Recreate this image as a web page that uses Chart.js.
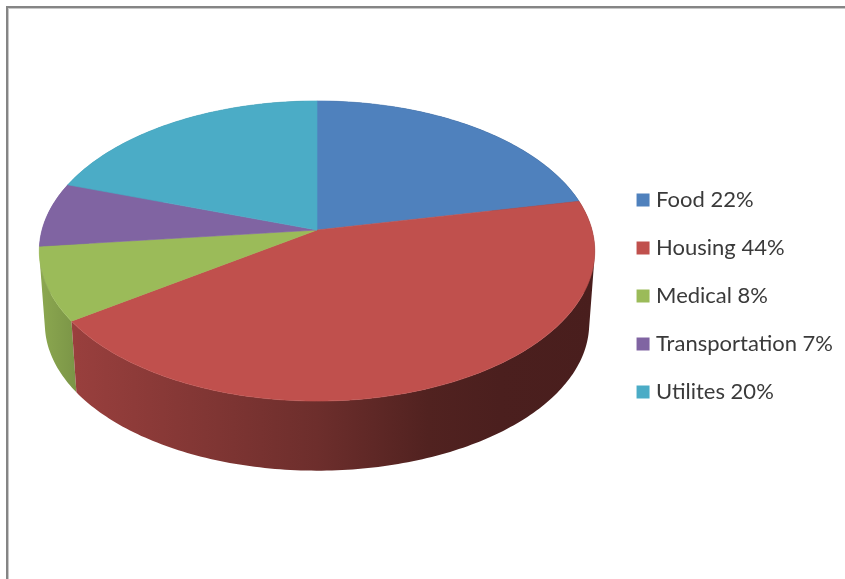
<!DOCTYPE html>
<html>
<head>
<meta charset="utf-8">
<title>Budget</title>
<script src="https://cdn.jsdelivr.net/npm/chart.js@4"></script>
<style>
    html, body { margin: 0; padding: 0; background: #fff; overflow: hidden; }
    #marco {
        position: absolute; left: 6px; top: 6px; width: 839px; height: 573px;
        border-left: 2px solid #858585; border-top: 2px solid #858585;
        box-shadow: inset 1px 1px 0 #c8c8c8;
    }
    #grafico { position: absolute; left: 0; top: 0; }
</style>
</head>
<body>
<div id="marco"></div>
<canvas id="grafico" width="845" height="579"></canvas>
<script>
    // --- DATA ---
    const categorias = ['Food', 'Housing', 'Medical', 'Transportation', 'Utilites'];
    const porcentajes = [22, 44, 8, 7, 20];
    const colores = ['#4f81bd', '#c0504d', '#9bbb59', '#8064a2', '#4bacc6'];

    // Perspective of the tilted disc, relative to the radius Chart.js gives the arcs
    const RADIO = 275;
    const ALTO_CARA = 0.535;     // vertical squash of the top face
    const FUGA = -0.14;          // near edge bigger than far edge
    const SUBE_CENTRO = 66;      // apex sits above the middle of the chart area
    const GROSOR = 73;           // wall height
    const ENCOGE_BASE = 0.98;    // lower rim is slightly smaller

    // Wall shading from left to right: [position, brightness]
    const SOMBRA = [[0, 0.9], [0.07, 0.79], [0.5, 0.57], [0.7, 0.42], [0.83, 0.39], [1, 0.38]];

    function proyectar(arc, angulo, abajo) {
        const r = arc.outerRadius * (abajo ? ENCOGE_BASE : 1);
        const u = Math.cos(angulo), v = Math.sin(angulo);
        const w = 1 + FUGA * v;
        return {
            x: arc.x + r * u / w,
            y: arc.y - SUBE_CENTRO + (abajo ? GROSOR : 0) + r * ALTO_CARA * v / w
        };
    }

    function borde(arc, abajo) {
        const pasos = Math.max(8, Math.ceil((arc.endAngle - arc.startAngle) * 60));
        const puntos = [];
        for (let i = 0; i <= pasos; i++) {
            puntos.push(proyectar(arc, arc.startAngle + (arc.endAngle - arc.startAngle) * i / pasos, abajo));
        }
        return puntos;
    }

    function oscurecer(hex, f) {
        const n = parseInt(hex.slice(1), 16);
        return `rgb(${Math.round((n >> 16) * f)},${Math.round(((n >> 8) & 255) * f)},${Math.round((n & 255) * f)})`;
    }

    function areaConSigno(q) {
        let s = 0;
        q.forEach((p, i) => {
            const n = q[(i + 1) % q.length];
            s += p.x * n.y - n.x * p.y;
        });
        return s;
    }

    const disco3d = {
        id: 'disco3d',
        beforeDatasetDraw(chart, args) {
            const ctx = chart.ctx;
            const arcos = args.meta.data;
            ctx.save();

            // Walls, back ones first. All quads of a slice go in one path, same winding, so no seams
            const orden = arcos.map((arc, i) => i).sort((a, b) =>
                Math.sin((arcos[a].startAngle + arcos[a].endAngle) / 2) -
                Math.sin((arcos[b].startAngle + arcos[b].endAngle) / 2));
            orden.forEach(i => {
                const arc = arcos[i];
                const arriba = borde(arc, false);
                const abajo = borde(arc, true);
                const izq = arc.x - arc.outerRadius * 1.01;
                const grad = ctx.createLinearGradient(izq, 0, izq + arc.outerRadius * 2.02, 0);
                SOMBRA.forEach(s => grad.addColorStop(s[0], oscurecer(colores[i], s[1])));
                ctx.beginPath();
                for (let k = 0; k < arriba.length - 1; k++) {
                    const q = [arriba[k], arriba[k + 1], abajo[k + 1], abajo[k]];
                    if (areaConSigno(q) < 0) q.reverse();
                    q.forEach((p, j) => j ? ctx.lineTo(p.x, p.y) : ctx.moveTo(p.x, p.y));
                    ctx.closePath();
                }
                ctx.fillStyle = grad;
                ctx.fill();
            });

            // Top faces
            arcos.forEach((arc, i) => {
                ctx.beginPath();
                ctx.moveTo(arc.x, arc.y - SUBE_CENTRO);
                borde(arc, false).forEach(p => ctx.lineTo(p.x, p.y));
                ctx.closePath();
                ctx.fillStyle = colores[i];
                ctx.strokeStyle = colores[i];
                ctx.lineWidth = 0.6;
                ctx.fill();
                ctx.stroke();
            });

            ctx.restore();
            return false; // faces already painted in perspective
        }
    };

    new Chart(document.getElementById('grafico'), {
        type: 'pie',
        data: {
            labels: categorias.map((c, i) => `${c} ${porcentajes[i]}%`),
            datasets: [{
                data: porcentajes,
                backgroundColor: colores,
                borderWidth: 0,
                radius: RADIO
            }]
        },
        options: {
            responsive: false,
            animation: false,
            layout: { padding: { top: 13, right: 2, left: 19 } },
            plugins: {
                tooltip: { enabled: false },
                legend: {
                    position: 'right',
                    labels: {
                        usePointStyle: true,
                        pointStyle: 'rect',
                        boxWidth: 4,
                        boxHeight: 13,
                        padding: 26,
                        color: '#3a3a3a',
                        font: { family: 'Lato', size: 22 }
                    }
                }
            }
        },
        plugins: [disco3d]
    });
</script>
</body>
</html>
